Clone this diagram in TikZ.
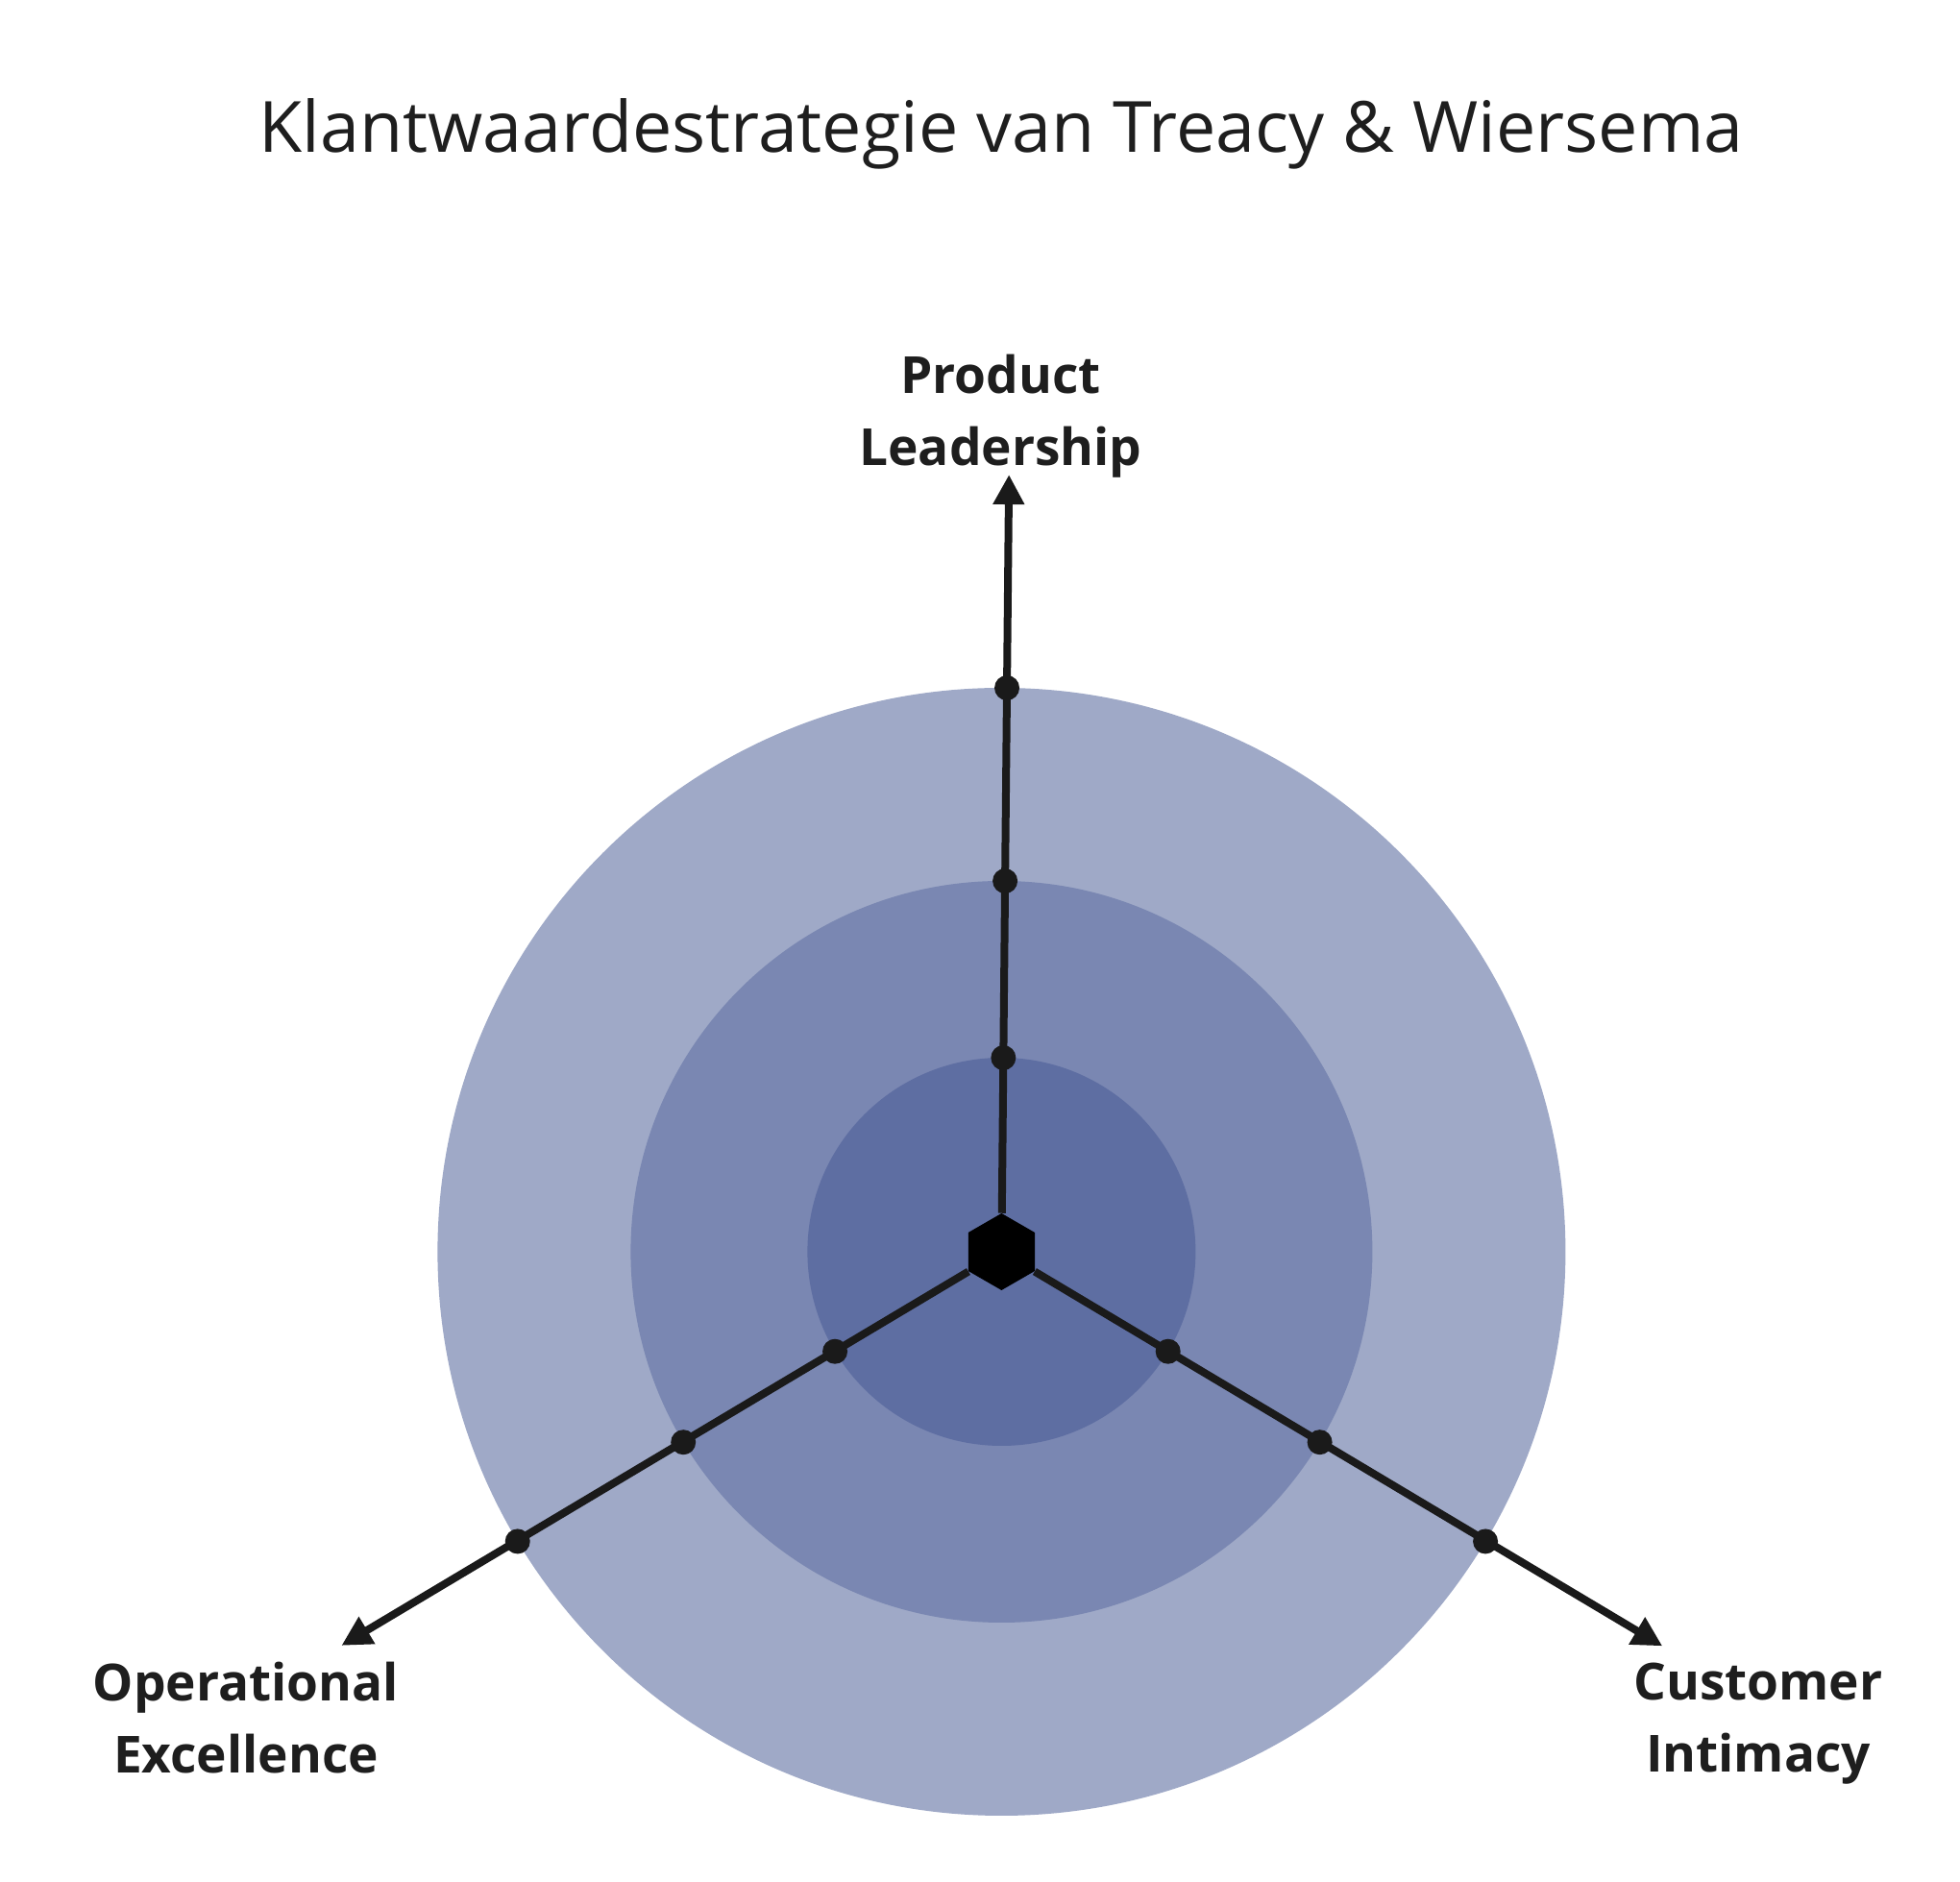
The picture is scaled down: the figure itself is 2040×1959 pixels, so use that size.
\documentclass[tikz,border=0pt]{standalone}
\usepackage{fontspec}
\setmainfont{Open Sans}
\usetikzlibrary{arrows.meta,shapes.geometric}
\definecolor{outerring}{RGB}{159,169,199}
\definecolor{middlering}{RGB}{122,135,178}
\definecolor{innerring}{RGB}{94,110,162}
\definecolor{armline}{RGB}{26,26,26}
\definecolor{titletext}{RGB}{30,30,30}
\tikzstyle{arm}=[line width=4pt, draw=armline, -{Triangle[length=15.5pt,width=15.5pt]}]
\tikzstyle{dot}=[circle, fill=armline, inner sep=0pt, minimum size=13pt]
\tikzstyle{hexnode}=[regular polygon, regular polygon sides=6, shape border rotate=30,
    fill=black, inner sep=0pt, minimum size=40pt]
\tikzstyle{axislabel}=[align=center, anchor=base, text=titletext, inner sep=0pt,
    font=\bfseries\fontsize{26.6}{37.5}\selectfont]

\begin{document}
\begin{tikzpicture}[x=0.5pt, y=0.5pt]
            \useasboundingbox (0, 0) rectangle (2040, 1959);
            \node[anchor=base, text=titletext, inner sep=0pt,
                font=\fontsize{36.8}{44}\selectfont] (title) at (1042, 1800)
                {Klantwaardestrategie van Treacy \& Wiersema};

            \coordinate (c) at (1042.4, 656);
            \fill[outerring] (c) circle (587);
            \fill[middlering] (c) circle (386);
            \fill[innerring] (c) circle (202);

            \node[hexnode] (hex) at (c) {};
            \coordinate (tipPL) at ([shift={(89.45:809)}]c);
            \coordinate (tipOE) at ([shift={(210.82:800)}]c);
            \coordinate (tipCI) at ([shift={(329.18:801)}]c);
            \draw[arm] (hex) -- (tipPL);
            \draw[arm] (hex) -- (tipOE);
            \draw[arm] (hex) -- (tipCI);

            \foreach \r in {202, 386, 587} {
                \node[dot] (pl-\r) at ([shift={(89.45:\r)}]c) {};
                \node[dot] (oe-\r) at ([shift={(210.9:\r)}]c) {};
                \node[dot] (ci-\r) at ([shift={(329.1:\r)}]c) {};
            }

            % anchor=base sits on the second line
            \node[axislabel] (pl) at (1041.5, 1474) {Product\\Leadership};
            \node[axislabel] (oe) at (256, 113) {Operational\\Excellence};
            \node[axislabel] (ci) at (1830, 114) {Customer\\Intimacy};
\end{tikzpicture}
\end{document}
